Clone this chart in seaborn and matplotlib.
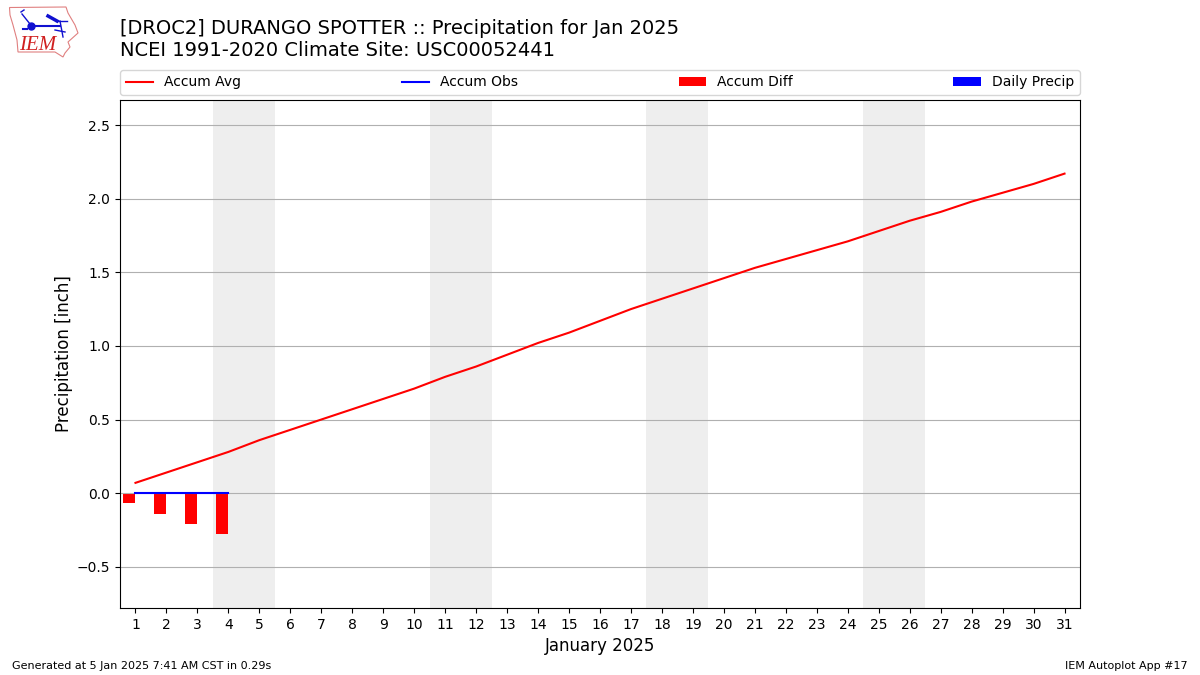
import matplotlib
matplotlib.use('Agg')
import matplotlib.pyplot as plt
from matplotlib.lines import Line2D
from matplotlib.patches import Polygon
import numpy as np
import pandas as pd
import seaborn as sns

# values
days = list(range(1, 32))
accum_avg = [0.07, 0.14, 0.21, 0.28, 0.36, 0.43, 0.50, 0.57, 0.64, 0.71, 0.79,
             0.86, 0.94, 1.02, 1.09, 1.17, 1.25, 1.32, 1.39, 1.46, 1.53, 1.59,
             1.65, 1.71, 1.78, 1.85, 1.91, 1.98, 2.04, 2.10, 2.17]
obs_days = [1, 2, 3, 4]
accum_obs = [0.0, 0.0, 0.0, 0.0]
accum_diff = [-0.07, -0.14, -0.21, -0.28]
daily_precip = [0.0, 0.0, 0.0, 0.0]
weekends = [(3.5, 5.5), (10.5, 12.5), (17.5, 19.5), (24.5, 26.5)]
y_ticks = [-0.5, 0.0, 0.5, 1.0, 1.5, 2.0, 2.5]

avg_df = pd.DataFrame({'day': days, 'precip': accum_avg})
obs_df = pd.DataFrame({'day': obs_days, 'precip': accum_obs})

W, H = 1200, 675
fig = plt.figure(figsize=(12, 6.75), dpi=100)
ax = fig.add_axes([120 / W, 1 - 608 / H, (1080 - 120) / W, (608 - 100) / H])

# weekend shading
for start, end in weekends:
    ax.axvspan(start, end, color='#eeeeee', lw=0)

sns.lineplot(data=avg_df, x='day', y='precip', color='r', label='Accum Avg',
             errorbar=None, ax=ax, zorder=3)
sns.lineplot(data=obs_df, x='day', y='precip', color='b', label='Accum Obs',
             errorbar=None, ax=ax, zorder=3)
ax.bar(obs_days, accum_diff, width=-0.4, align='edge', color='r', label='Accum Diff')
ax.bar(obs_days, daily_precip, width=0.4, align='edge', color='b', label='Daily Precip')

ax.set_xlim(0.5, 31.5)
ax.set_ylim(-0.78, 2.67)
ax.set_xticks(days)
ax.set_yticks(y_ticks)
ax.grid(axis='y')
ax.set_xlabel('January 2025', fontsize=12)
ax.set_ylabel('Precipitation [inch]', fontsize=12, labelpad=2.5)

ax.legend(loc='lower left', bbox_to_anchor=(0, 1.01, 1, 0.05), mode='expand',
          ncol=4, fontsize=10, borderaxespad=0, borderpad=0.4)

fig.text(120 / W, 1 - 29 / H, '[DROC2] DURANGO SPOTTER :: Precipitation for Jan 2025',
         fontsize=14, va='center')
fig.text(120 / W, 1 - 50 / H, 'NCEI 1991-2020 Climate Site: USC00052441',
         fontsize=14, va='center')
fig.text(12 / W, 1 - 666 / H, 'Generated at 5 Jan 2025 7:41 AM CST in 0.29s',
         fontsize=8, va='center')
fig.text(1188 / W, 1 - 666 / H, 'IEM Autoplot App #17', fontsize=8, va='center', ha='right')

# IEM logo, pixel coordinates
logo = fig.add_axes([0, 1 - 60 / H, 90 / W, 60 / H])
logo.set_xlim(0, 90)
logo.set_ylim(60, 0)
logo.axis('off')
state = np.array([(9.5, 7.5), (66, 7), (68, 13), (75, 25), (78, 33), (68, 42),
                  (70, 47), (65, 53), (63, 57), (55, 52), (18, 52), (17, 40),
                  (13, 25), (10, 15)])
logo.add_patch(Polygon(state, closed=True, fill=False, ec='#e08080', lw=0.8))
logo.add_line(Line2D([31, 60], [26, 26], color='#1010d0', lw=1.5))
logo.add_line(Line2D([31], [26], marker='o', ms=5, color='#1010d0'))
logo.add_line(Line2D([30, 22], [24, 14], color='#1010d0', lw=1))
logo.add_line(Line2D([21, 24], [12, 10], color='#1010d0', lw=1))
logo.add_line(Line2D([48, 57], [16, 21], color='#1010d0', lw=2.5))
logo.add_line(Line2D([56, 67], [21, 21], color='#1010d0', lw=1))
logo.add_line(Line2D([60, 63], [21, 37], color='#1010d0', lw=1))
logo.add_line(Line2D([55, 65], [30, 32], color='#1010d0', lw=1))
logo.add_line(Line2D([23, 27], [29, 29], color='#1010d0', lw=1.5))
logo.text(37.5, 45, 'IEM', color='#d02020', family='Liberation Serif', style='italic',
          fontsize=15, ha='center', va='center')

fig.savefig('out.png', dpi=100)
